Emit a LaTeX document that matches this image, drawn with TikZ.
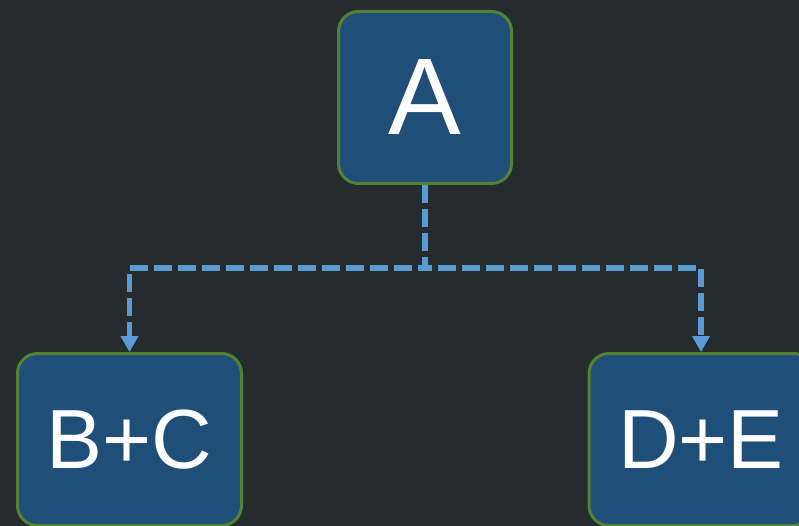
\documentclass[tikz,border=0pt]{standalone}
\usepackage{fontspec}
\setmainfont{Liberation Sans}
\usetikzlibrary{arrows.meta}
\definecolor{bgdark}{HTML}{262C2E}
\definecolor{boxfill}{HTML}{1F4E79}
\definecolor{boxedge}{HTML}{548235}
\definecolor{linkblue}{HTML}{5B9BD5}
\begin{document}
\begin{tikzpicture}[x=1pt,y=-1pt,
  box/.style={draw=boxedge, fill=boxfill, line width=3pt, rounded corners=20pt,
    text=white, inner sep=0pt, align=center},
  topbox/.style={box, minimum width=173pt, minimum height=172pt,
    font=\fontsize{109}{109}\selectfont},
  childbox/.style={box, minimum width=224pt, minimum height=172pt,
    font=\fontsize{84}{84}\selectfont},
  link/.style={draw=linkblue, line width=5.5pt, dash pattern=on 18pt off 6pt,
    -{Triangle[width=17pt,length=16pt,fill=linkblue]}}
]
  % canvas
  \fill[bgdark] (0,0) rectangle (799,526);
  \useasboundingbox (0,0) rectangle (799,526);

  % blocks
  \node[topbox]   (A)  at (425,97.5)   {A};
  \node[childbox] (BC) at (129.5,439.5) {B+C};
  \node[childbox] (DE) at (701,439.5)   {D+E};

  % split point under A
  \coordinate (split) at (425,268);

  % connectors
  \draw[link] (A.south) -- (split) -| (BC.north);
  \draw[link] (A.south) -- (split) -| (DE.north);
\end{tikzpicture}
\end{document}
